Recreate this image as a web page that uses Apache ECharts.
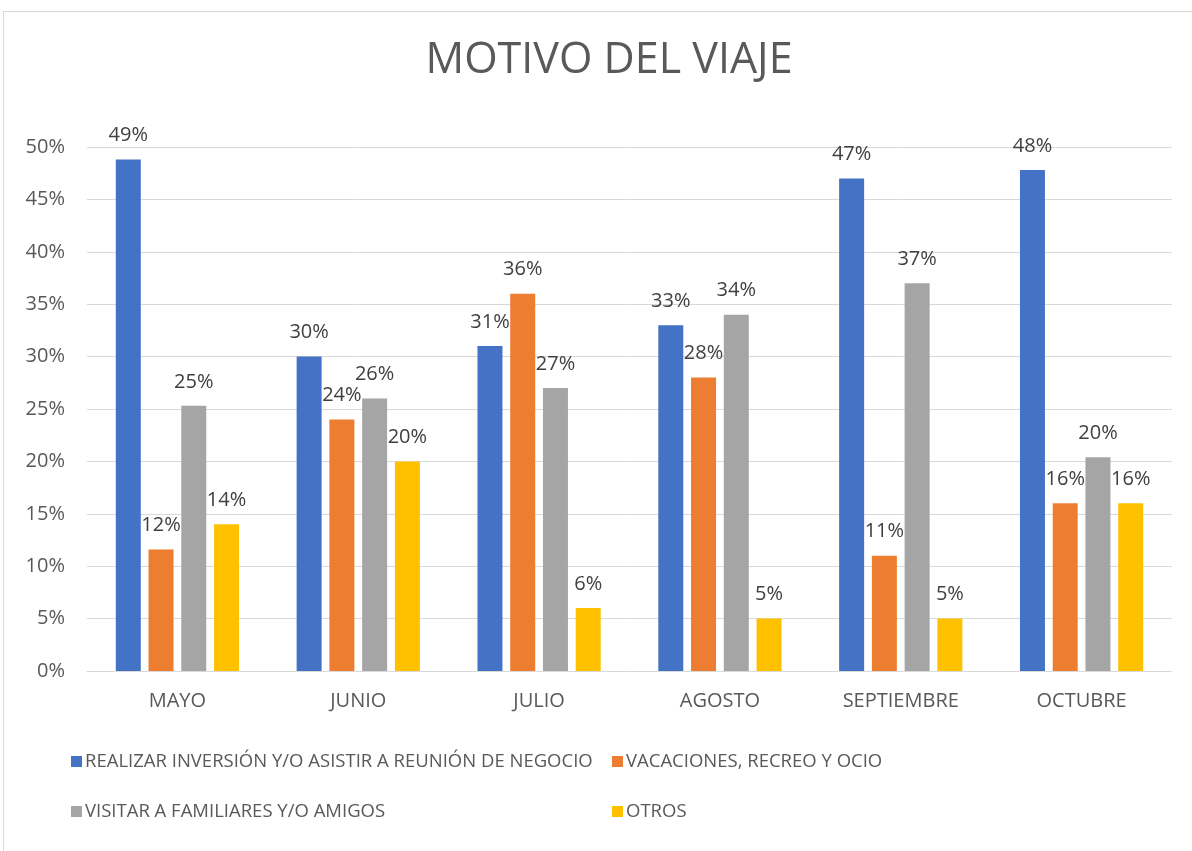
<!DOCTYPE html>
<html>
<head>
<meta charset="utf-8">
<script src="https://cdn.jsdelivr.net/npm/echarts@6/dist/echarts.min.js"></script>
<style>
  html, body { margin: 0; padding: 0; background: #fff; }
  #frame {
    position: absolute; left: 3px; top: 11px; width: 1200px; height: 860px;
    border-left: 1px solid #d9d9d9; border-top: 1px solid #d9d9d9;
  }
  #chart { position: absolute; left: 0; top: 0; width: 1192px; height: 851px; }
</style>
</head>
<body>
<div id="frame"></div>
<div id="chart"></div>
<script>
// meses y series
const months = ["MAYO", "JUNIO", "JULIO", "AGOSTO", "SEPTIEMBRE", "OCTUBRE"];
const seriesNames = [
  "REALIZAR INVERSIÓN Y/O ASISTIR A REUNIÓN DE NEGOCIO",
  "VACACIONES, RECREO Y OCIO",
  "VISITAR A FAMILIARES Y/O AMIGOS",
  "OTROS"
];
const negocio = [0.488, 0.30, 0.31, 0.33, 0.47, 0.478];
const vacaciones = [0.116, 0.24, 0.36, 0.28, 0.11, 0.16];
const familiares = [0.253, 0.26, 0.27, 0.34, 0.37, 0.204];
const otros = [0.14, 0.20, 0.06, 0.05, 0.05, 0.16];
const colors = ["#4472c4", "#ed7d31", "#a5a5a5", "#ffc000"];

const font = "Open Sans";
const textColor = "#595959";
const allData = [negocio, vacaciones, familiares, otros];

// una leyenda por elemento para colocarlas como en el original
const legendPos = [
  { left: 66, top: 747 },
  { left: 607, top: 747 },
  { left: 66, top: 797 },
  { left: 607, top: 797 }
];

const chart = echarts.init(document.getElementById("chart"));
chart.setOption({
  animation: false,
  title: {
    text: "MOTIVO DEL VIAJE",
    left: 604,
    textAlign: "center",
    top: 34,
    textStyle: { fontFamily: font, fontSize: 43, fontWeight: "normal", color: textColor }
  },
  legend: seriesNames.map((n, i) => ({
    data: [n],
    left: legendPos[i].left,
    top: legendPos[i].top,
    icon: "rect",
    itemWidth: 11,
    itemHeight: 11,
    itemGap: 0,
    textStyle: { fontFamily: font, fontSize: 18.5, color: textColor, padding: [0, 0, 0, -2] }
  })),
  grid: { left: 87, right: 20, top: 147, bottom: 180 },
  xAxis: {
    type: "category",
    data: months,
    axisTick: { show: false },
    axisLine: { lineStyle: { color: "#d9d9d9", width: 1 } },
    axisLabel: { margin: 20, fontFamily: font, fontSize: 20, color: textColor }
  },
  yAxis: {
    type: "value",
    min: 0,
    max: 0.5,
    interval: 0.05,
    axisLine: { show: false },
    axisTick: { show: false },
    splitLine: { lineStyle: { color: "#d9d9d9", width: 1 } },
    axisLabel: {
      margin: 22,
      fontFamily: font,
      fontSize: 20,
      color: textColor,
      formatter: v => Math.round(v * 100) + "%"
    }
  },
  series: allData.map((d, i) => ({
    name: seriesNames[i],
    type: "bar",
    data: d,
    barWidth: 25,
    barGap: "31%",
    itemStyle: { color: colors[i] },
    label: {
      show: true,
      position: "top",
      distance: 14,
      fontFamily: font,
      fontSize: 20,
      color: "#404040",
      formatter: p => Math.round(p.value * 100) + "%"
    }
  }))
});
</script>
</body>
</html>
